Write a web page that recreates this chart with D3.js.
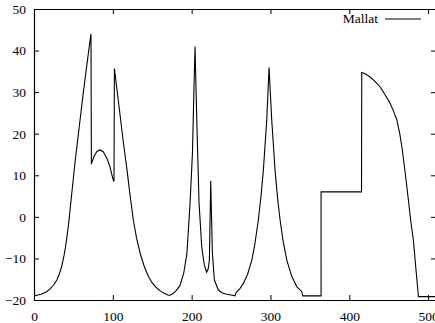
<!DOCTYPE html>
<html>
<head>
<meta charset="utf-8">
<script src="https://cdn.jsdelivr.net/npm/d3@7"></script>
<style>
  body { margin: 0; background: #fff; }
  svg { display: block; }
  text { font-family: "Liberation Serif", "DejaVu Serif", serif; font-size: 13.5px; fill: #000; }
</style>
</head>
<body>
<div id="chart"></div>
<script>
// values
const seriesName = 'Mallat';
const sampleX = [0, 5, 9, 12, 16, 20, 25, 29, 32, 35, 38, 40, 43.5, 47, 52, 57, 62, 67, 72.3,
  72.8, 76, 80, 84, 88, 92, 96, 100, 101.5,
  102, 105, 109, 113, 118, 122, 126, 130, 135, 140, 145, 150, 155, 160, 165, 170,
  172, 176, 180, 185, 190, 194, 198, 201, 203, 204.3,
  206.5, 209.4, 212.8, 216, 219, 221, 222.5, 224.2, 226.3, 228.8, 233.9, 239, 244.5, 250, 255,
  256.3, 261, 265.6, 271, 276.3, 280, 284.6, 288, 291, 295.3, 298.2,
  301.6, 305.8, 309, 312.2, 316, 320.7, 327, 333.4, 339.7, 341,
  364.2, 364.2, 415.5, 415.8, 420, 426, 432, 439, 445, 451.8, 456, 460.3, 464, 467,
  471, 475, 478, 481.3, 484.5, 487.7, 510];
const sampleY = [-19, -18.8, -18.6, -18.4, -18, -17.4, -16.4, -15.2, -13.8, -12, -9.4, -7.2, -2.4, 4, 13, 21, 29, 36.5, 44,
  12.7, 14.5, 15.8, 16.1, 15.6, 14.3, 12.3, 9.2, 8.5,
  35.7, 31, 24.8, 18.5, 11.3, 5, -0.75, -5, -9, -12, -14.3, -15.9, -17, -17.8, -18.4, -18.8,
  -18.9, -18.5, -17.8, -16.6, -13.5, -8.8, 3.3, 15.3, 31.3, 41,
  23.3, 3.3, -7.2, -11.5, -13.3, -12.5, -10.4, 8.6, -8.7, -15.2, -17.6, -18.3, -18.6, -18.8, -19,
  -18.2, -17.3, -16, -13.8, -10.4, -6.8, -0.75, 5, 11.3, 23.3, 35.9,
  23.3, 11.3, 4.5, -0.75, -5.8, -10.4, -14.3, -16.8, -18, -19,
  -19, 6, 6, 34.7, 34.4, 33.7, 32.7, 31.3, 29.5, 27.3, 25.5, 23.3, 20, 16.5,
  10.5, 4, -1, -5.6, -12.5, -19.2, -19.2];
const xTicks = [0, 100, 200, 300, 400, 500];
const yTicks = [-20, -10, 0, 10, 20, 30, 40, 50];

const width = 435, height = 323;
const mLeft = 34, mRight = 436, mTop = 9, mBottom = 300;

const x = d3.scaleLinear().domain([0, 510]).range([mLeft, mRight]);
const y = d3.scaleLinear().domain([-20, 50]).range([mBottom, mTop]);

const svg = d3.select('#chart').append('svg')
  .attr('width', width)
  .attr('height', height);

const points = sampleX.map((v, i) => [v, sampleY[i]]);

// axes: gnuplot style, ticks pointing inward, labels only bottom/left
const tick = 5;
svg.append('g')
  .attr('transform', 'translate(0,' + mBottom + ')')
  .call(d3.axisBottom(x).tickValues(xTicks).tickSize(-tick).tickPadding(11).tickSizeOuter(0));
svg.append('g')
  .attr('transform', 'translate(' + mLeft + ',0)')
  .call(d3.axisLeft(y).tickValues(yTicks).tickSize(-tick).tickPadding(8).tickSizeOuter(0));
svg.append('g')
  .attr('transform', 'translate(0,' + mTop + ')')
  .call(d3.axisTop(x).tickValues(xTicks).tickSize(-tick).tickFormat('').tickSizeOuter(0));
svg.append('g')
  .attr('transform', 'translate(' + mRight + ',0)')
  .call(d3.axisRight(y).tickValues(yTicks).tickSize(-tick).tickFormat('').tickSizeOuter(0));

svg.selectAll('.domain').attr('stroke', '#000').attr('stroke-width', 1.2);
svg.selectAll('.tick line').attr('stroke', '#000');
svg.selectAll('.tick text')
  .style('font-family', '"Liberation Serif", serif')
  .style('font-size', '13.5px')
  .attr('fill', '#000');

const line = d3.line()
  .x(d => x(d[0]))
  .y(d => y(d[1]));

svg.append('path')
  .datum(points)
  .attr('fill', 'none')
  .attr('stroke', '#000')
  .attr('stroke-width', 1.1)
  .attr('d', line);

// key
svg.append('text')
  .attr('x', 378)
  .attr('y', 23)
  .attr('text-anchor', 'end')
  .text(seriesName);
svg.append('line')
  .attr('x1', 385).attr('x2', 421)
  .attr('y1', 19).attr('y2', 19)
  .attr('stroke', '#000')
  .attr('stroke-width', 1.1);
</script>
</body>
</html>
